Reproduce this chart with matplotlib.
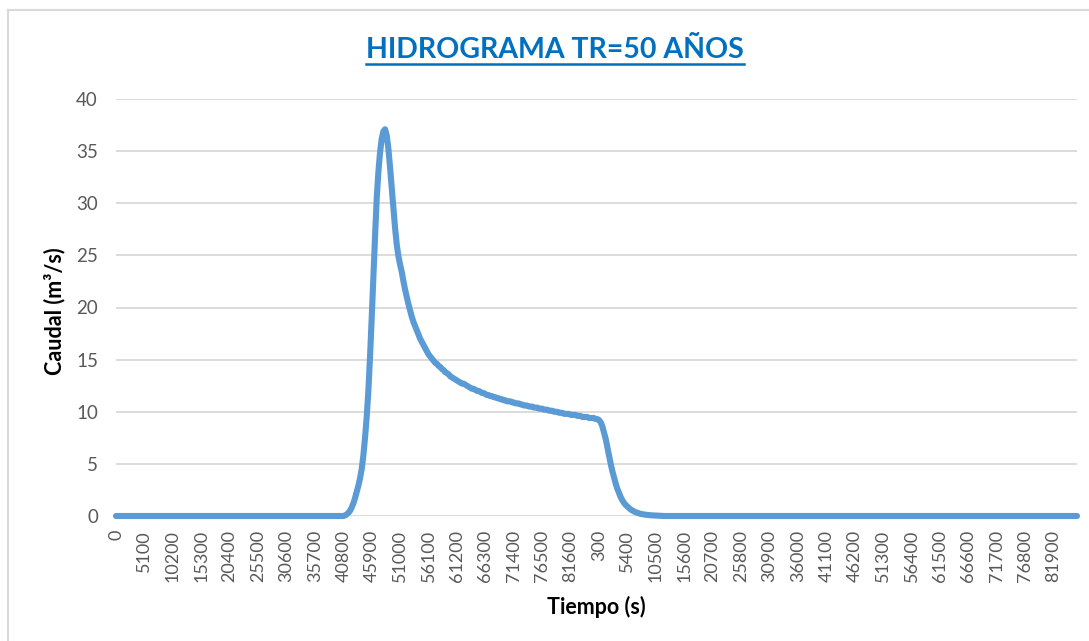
import numpy as np
import matplotlib
matplotlib.use("Agg")
import matplotlib.pyplot as plt
from matplotlib.lines import Line2D

plt.rcParams['font.family'] = ['Lato', 'DejaVu Sans']

# caudal (m3/s) cada 300 s, dos dias = 576 pasos
n_pasos = 576
inicio_subida = 136

caudal_subida = [0.0, 0.05, 0.15, 0.3, 0.5, 0.8, 1.2, 1.7, 2.3, 2.9, 3.6, 4.5, 5.8, 7.5, 9.5,
                 12.0, 15.3, 19.0, 23.0, 26.8, 30.5, 33.0, 34.9, 36.2, 36.9, 37.1]

caudal_recesion = [36.5, 35.2, 33.4, 31.4, 29.5, 27.6, 26.0, 24.9, 24.1, 23.4,
                   22.5, 21.7, 21.0, 20.3, 19.7, 19.1, 18.6, 18.2, 17.8, 17.4,
                   17.0, 16.7, 16.4, 16.1, 15.8, 15.5, 15.3, 15.1, 14.9,
                   14.7, 14.6, 14.4, 14.3, 14.1, 14.0, 13.8, 13.7, 13.6, 13.4,
                   13.3, 13.2, 13.1, 13.0, 12.9, 12.8, 12.7, 12.7, 12.6, 12.5,
                   12.4, 12.3, 12.2, 12.2, 12.1, 12.0, 12.0, 11.9, 11.8, 11.8,
                   11.7, 11.6, 11.6, 11.5, 11.5, 11.4, 11.4, 11.3, 11.3, 11.2,
                   11.2, 11.1, 11.1, 11.0, 11.0, 11.0, 10.9, 10.9, 10.8, 10.8,
                   10.8, 10.7, 10.7, 10.6, 10.6, 10.6, 10.5, 10.5, 10.5, 10.4,
                   10.4, 10.4, 10.3, 10.3, 10.3, 10.2, 10.2, 10.2, 10.1, 10.1,
                   10.1, 10.0, 10.0, 10.0, 9.9, 9.9, 9.9, 9.8, 9.8, 9.8,
                   9.8, 9.7, 9.7, 9.7, 9.7, 9.6, 9.6, 9.6, 9.5, 9.5,
                   9.5, 9.5, 9.4, 9.4, 9.4, 9.4, 9.3, 9.3]

caudal_descenso = [9.2, 9.0, 8.6, 8.0, 7.4, 6.6, 5.8, 5.0, 4.3, 3.7,
                   3.1, 2.6, 2.2, 1.8, 1.5, 1.25, 1.05, 0.9, 0.75, 0.62,
                   0.52, 0.43, 0.36, 0.3, 0.25, 0.2, 0.17, 0.14, 0.12, 0.1,
                   0.08, 0.07, 0.06, 0.05, 0.04, 0.03, 0.02, 0.01]

etiquetas_tiempo = ["0", "5100", "10200", "15300", "20400", "25500", "30600", "35700",
                    "40800", "45900", "51000", "56100", "61200", "66300", "71400",
                    "76500", "81600", "300", "5400", "10500", "15600", "20700",
                    "25800", "30900", "36000", "41100", "46200", "51300", "56400",
                    "61500", "66600", "71700", "76800", "81900"]
paso_etiqueta = 17

hidro = caudal_subida + caudal_recesion + caudal_descenso
caudal = [0.0] * inicio_subida + hidro
caudal = caudal + [0.0] * (n_pasos - len(caudal))
x = np.arange(n_pasos)

W, H = 1089, 641
fig = plt.figure(figsize=(W / 100, H / 100), dpi=100)
ax = fig.add_axes([116 / W, 1 - 516 / H, (1077 - 116) / W, (516 - 99) / H])

ax.plot(x, caudal, color='#5B9BD5', lw=4.4, solid_capstyle='round',
        solid_joinstyle='round', zorder=3, clip_on=False)
ax.set_xlim(0, n_pasos - 1)
ax.set_ylim(0, 40)
ax.set_yticks(range(0, 41, 5))
ax.set_xticks([i * paso_etiqueta for i in range(len(etiquetas_tiempo))])
ax.set_xticklabels(etiquetas_tiempo, rotation=90, va='top', ha='center')
ax.grid(axis='y', color='#D9D9D9', lw=1.3)
ax.set_axisbelow(True)
for s in ax.spines.values():
    s.set_visible(False)
ax.tick_params(axis='both', length=0, colors='#595959', labelsize=13.5)
ax.tick_params(axis='y', pad=13)
ax.tick_params(axis='x', pad=10, labelsize=13)

fig.text(55 / W, 1 - 311 / H, "Caudal (m³/s)", rotation=90, ha='center', va='center',
         fontsize=15.5, fontweight='bold', color='black')
fig.text(596 / W, 1 - 607 / H, "Tiempo (s)", ha='center', va='center',
         fontsize=15.5, fontweight='bold', color='black')
titulo = fig.text(555 / W, 1 - 50 / H, "HIDROGRAMA TR=50 AÑOS", ha='center', va='center',
                  fontsize=20.5, fontweight='bold', color='#0070C0')

# subrayado del titulo
r = fig.canvas.get_renderer()
bb = titulo.get_window_extent(r)
yl = (bb.y0 - 1) / H
fig.add_artist(Line2D([bb.x0 / W, bb.x1 / W], [yl, yl], color='#0070C0', lw=1.8))

# marco del grafico
fig.add_artist(Line2D([8 / W, 8 / W], [0, 1 - 10 / H], color='#D9D9D9', lw=1.5))
fig.add_artist(Line2D([8 / W, 1], [1 - 10 / H, 1 - 10 / H], color='#D9D9D9', lw=1.5))

fig.savefig("out.png", dpi=100)
